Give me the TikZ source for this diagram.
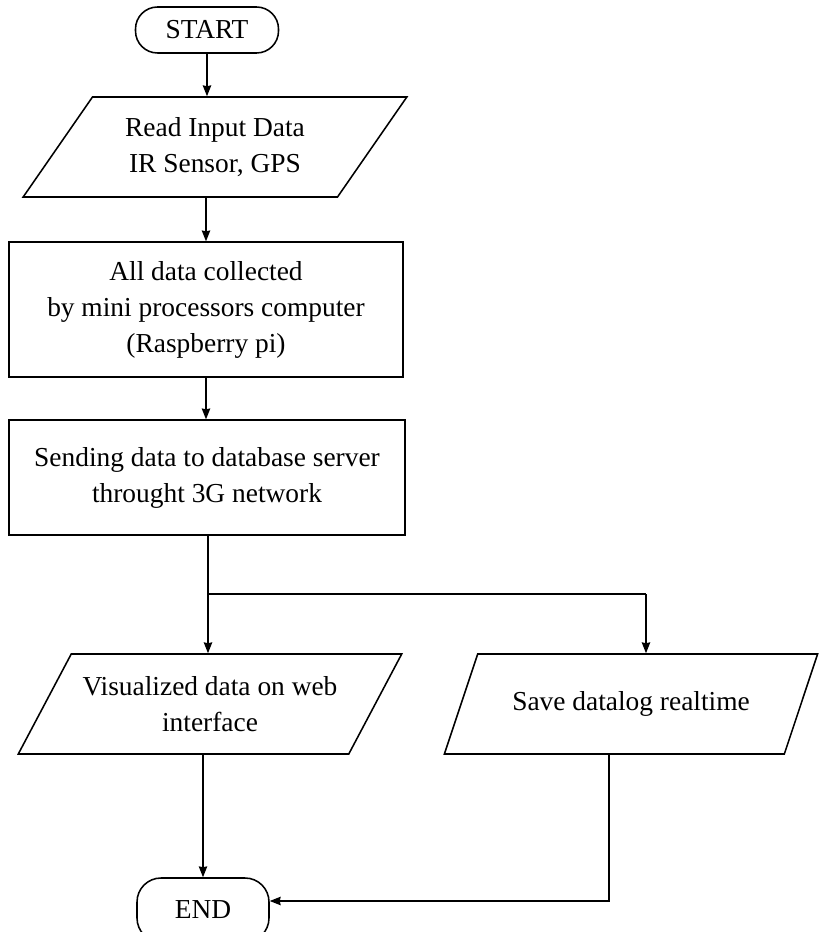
\documentclass[tikz,border=0pt]{standalone}
\usepackage{fontspec}
\setmainfont{Liberation Serif}
\usetikzlibrary{shapes.geometric,arrows.meta}
\begin{document}
\begin{tikzpicture}[>={Stealth[length=0.27cm,width=0.21cm,inset=0.02cm]},line width=1.1pt,
  every node/.style={font=\fontsize{19.5}{25.5}\selectfont,align=center},
  term/.style={draw,rounded corners=0.55cm,minimum width=3.575cm,minimum height=1.15cm},
  io/.style={draw,trapezium,trapezium left angle=52,trapezium right angle=128,
    trapezium stretches=true,minimum height=2.5cm},
  proc/.style={draw,rectangle}]
  \clip (0,0) rectangle (20.475,-23.3);

  \node[term] (start) at (5.175,-0.75) {START};
  \node[io,minimum width=9.6cm] (read) at (5.375,-3.675) {Read Input Data\\IR Sensor, GPS};
  \node[proc,minimum width=9.85cm,minimum height=3.375cm] (collect) at (5.15,-7.74)
    {All data collected\\by mini processors computer\\(Raspberry pi)};
  \node[proc,minimum width=9.9cm,minimum height=2.875cm] (send) at (5.175,-11.94)
    {Sending data to database server\\throught 3G network};
  \node[io,minimum width=9.6cm] (vis) at (5.25,-17.6) {Visualized data on web\\interface};
  \node[io,minimum width=9.35cm] (save) at (15.775,-17.6) {Save datalog realtime};
  \node[term,minimum width=3.3cm,minimum height=1.6cm,rounded corners=0.6cm] (end) at (5.075,-22.75) {END};

  \coordinate (split) at (5.2,-14.85);
  \coordinate (rbr) at (16.15,-14.85);

  \draw[->] (start.south) -- (start.south |- read.north);
  \draw[->] (read.south -| collect.north) -- (collect.north);
  \draw[->] (collect.south) -- (collect.south |- send.north);
  \draw (send.south -| split) -- (split) -- (rbr);
  \draw[->] (split) -- (split |- vis.north);
  \draw[->] (rbr) -- (rbr |- save.north);
  \draw[->] (vis.south -| end.north) -- (end.north);
  \draw[->] ([xshift=-0.55cm]save.south) |- ([yshift=0.225cm]end.east);
\end{tikzpicture}
\end{document}
